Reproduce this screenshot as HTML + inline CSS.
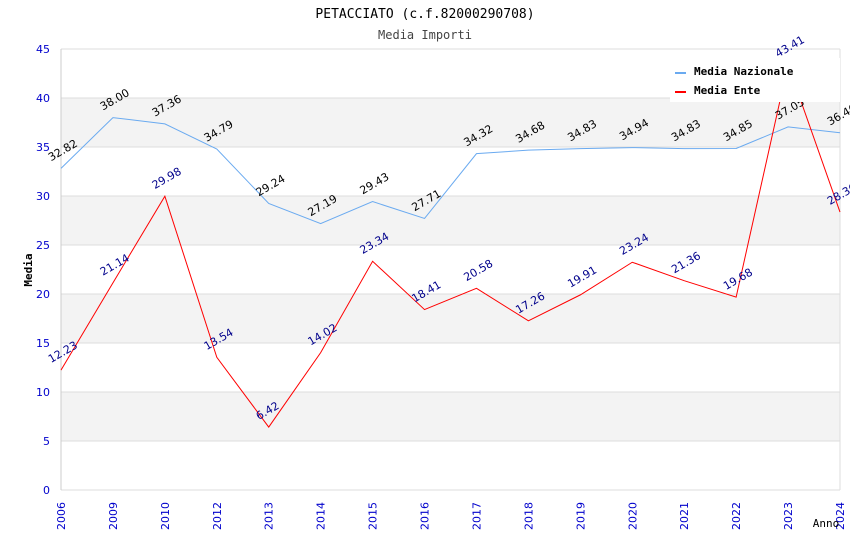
<!DOCTYPE html>
<html><head><meta charset="utf-8"><style>
body{margin:0;background:#fff}
svg{display:block}
</style></head><body>
<svg id="c" width="850" height="550" xmlns="http://www.w3.org/2000/svg">
<text x="425" y="18" text-anchor="middle" font-family="DejaVu Sans Mono, monospace" font-size="13">PETACCIATO (c.f.82000290708)</text>
<text x="425" y="39" text-anchor="middle" font-family="DejaVu Sans Mono, monospace" font-size="12" fill="#444">Media Importi</text>
<g id="bands"></g><g id="grid"></g><g id="axes"></g><g id="series"></g><g id="labels"></g>
<g>
<rect x="670" y="58" width="170" height="44" fill="#fff"/>
<line x1="675" y1="73" x2="686" y2="73" stroke="#6aaaf0" stroke-width="2"/>
<text x="694" y="75" font-family="DejaVu Sans Mono, monospace" font-size="11" font-weight="bold">Media Nazionale</text>
<line x1="675" y1="92" x2="686" y2="92" stroke="#f00" stroke-width="2"/>
<text x="694" y="94" font-family="DejaVu Sans Mono, monospace" font-size="11" font-weight="bold">Media Ente</text>
</g>
<text x="32" y="270" transform="rotate(-90 32 270)" text-anchor="middle" font-family="DejaVu Sans Mono, monospace" font-size="11" font-weight="bold">Media</text>
<text x="826" y="527" text-anchor="middle" font-family="DejaVu Sans Mono, monospace" font-size="11">Anno</text>
</svg>
<script>
const categories=["2006","2009","2010","2012","2013","2014","2015","2016","2017","2018","2019","2020","2021","2022","2023","2024"];
const nazionale=[32.82,38.00,37.36,34.79,29.24,27.19,29.43,27.71,34.32,34.68,34.83,34.94,34.83,34.85,37.05,36.46];
const ente=[12.23,21.14,29.98,13.54,6.42,14.02,23.34,18.41,20.58,17.26,19.91,23.24,21.36,19.68,43.41,28.36];
const yTicks=[0,5,10,15,20,25,30,35,40,45];
const L=61,R=840,T=49,B=490,YMAX=45;
const NS="http://www.w3.org/2000/svg";
const xs=i=>L+i*(R-L)/(categories.length-1);
const ys=v=>B-v/YMAX*(B-T);
function mk(t,a,p){const e=document.createElementNS(NS,t);for(const k in a)e.setAttribute(k,a[k]);p.appendChild(e);return e;}
const bands=document.getElementById('bands'),grid=document.getElementById('grid'),axes=document.getElementById('axes'),series=document.getElementById('series'),labels=document.getElementById('labels');
for(let i=0;i<yTicks.length-1;i++){
  if(i%2==1){const r=mk('rect',{x:L,y:ys(yTicks[i+1]),width:R-L,height:ys(yTicks[i])-ys(yTicks[i+1]),fill:'#f3f3f3'},bands);
  
  }
}
yTicks.forEach(v=>{
  const l=mk('line',{x1:L,x2:R,y1:ys(v),y2:ys(v),stroke:'#ddd'},grid);
  
  
  const t=mk('text',{x:50,y:ys(v)+4,'text-anchor':'end','font-family':'DejaVu Sans, sans-serif','font-size':11,fill:'#00c'},axes);
  
  
  t.textContent=v;
});
mk('line',{x1:L,x2:L,y1:T,y2:B,stroke:'#ccc'},axes);
mk('line',{x1:R,x2:R,y1:T,y2:B,stroke:'#ddd'},axes);
categories.forEach((c,i)=>{
  const x=xs(i)+4,y=530;
  const t=mk('text',{x:x,y:y,transform:`rotate(-90 ${x} ${y})`,'font-family':'DejaVu Sans, sans-serif','font-size':11,fill:'#00c'},axes);
  
  
  t.textContent=c;
});
function draw(vals,color,lcol,name){
  const p=mk('polyline',{points:vals.map((v,i)=>xs(i)+','+ys(v)).join(' '),fill:'none',stroke:color,'stroke-width':1},series);
  
  
  vals.forEach((v,i)=>{
    const x=xs(i)-10,y=ys(v)-7;
    const t=mk('text',{x:x,y:y,transform:`rotate(-30 ${x} ${y})`,'font-family':'DejaVu Sans, sans-serif','font-size':11,fill:lcol},labels);
    
    
    t.textContent=v.toFixed(2);
  });
}
draw(nazionale,'#6aaaf0','#000','nazionale');
draw(ente,'#f00','#00008b','ente');
</script>
</body></html>
